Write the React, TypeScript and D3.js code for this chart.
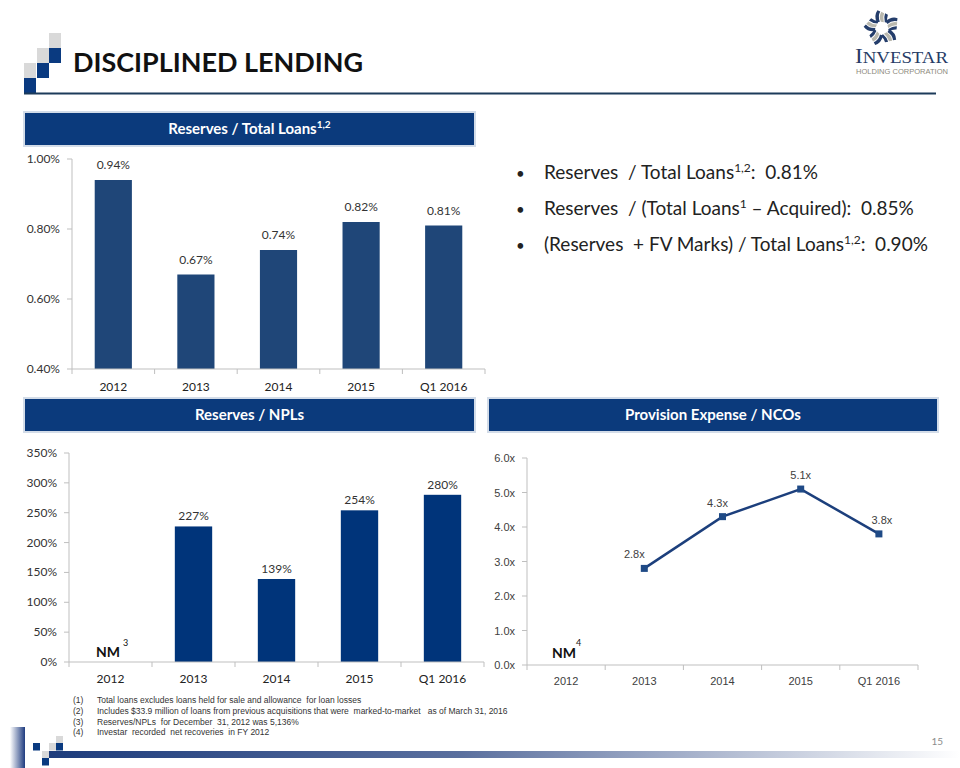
import React from 'react';
import * as d3 from 'd3';

// ---------- DATA ----------
const categories = ['2012', '2013', '2014', '2015', 'Q1 2016'];
const reservesToLoans = [0.94, 0.67, 0.74, 0.82, 0.81];
const reservesToLoansTicks = [0.4, 0.6, 0.8, 1.0];
const reservesToNPLs: (number | null)[] = [null, 227, 139, 254, 280];
const nplTicks = [0, 50, 100, 150, 200, 250, 300, 350];
const provisionToNCOs: (number | null)[] = [null, 2.8, 4.3, 5.1, 3.8];
const ncoTicks = [0, 1, 2, 3, 4, 5, 6];

const bulletLines = [
  [{ t: 'Reserves  / Total Loans' }, { t: '1,2', sup: true }, { t: ':  0.81%' }],
  [{ t: 'Reserves  / (Total Loans' }, { t: '1', sup: true }, { t: ' – Acquired):  0.85%' }],
  [{ t: '(Reserves  + FV Marks) / Total Loans' }, { t: '1,2', sup: true }, { t: ':  0.90%' }],
];

const footnotes = [
  'Total loans excludes loans held for sale and allowance  for loan losses',
  'Includes $33.9 million of loans from previous acquisitions that were  marked-to-market   as of March 31, 2016',
  'Reserves/NPLs  for December  31, 2012 was 5,136%',
  'Investar  recorded  net recoveries  in FY 2012',
];

// ---------- STYLE ----------
const NAVY = '#0b3a7c';
const BAR1 = '#1f4678';
const BAR2 = '#00347a';
const AXIS = '#bfbfbf';
const TXT = '#333333';
const CAL = 'Lato, "Open Sans", sans-serif';
const TAH = '"Liberation Sans", Arial, sans-serif';
const ncoLabelDx = [0, -10, -5, 0, 3];

function HeaderBar({ x, y, w, h, children }: any) {
  return (
    <g>
      <rect x={x - 1} y={y - 1} width={w + 2} height={h + 2} fill="#d3dce8" />
      <rect x={x + 1} y={y + 1} width={w - 2} height={h - 2} fill={NAVY} />
      <text x={x + w / 2} y={y + h / 2 + 5} textAnchor="middle" fill="#fff" fontFamily={CAL} fontWeight={700} fontSize={15}>
        {children}
      </text>
    </g>
  );
}

function CategoryAxis({ x, y, font, size, labelY, color }: any) {
  const [r0, r1] = x.range();
  const step = x.step();
  const ticks = d3.range(categories.length + 1).map((i) => r0 + i * step);
  return (
    <g>
      <line x1={r0} x2={r1} y1={y} y2={y} stroke={AXIS} strokeWidth={1} />
      {ticks.map((t, i) => (
        <line key={i} x1={t} x2={t} y1={y} y2={y + 5} stroke={AXIS} />
      ))}
      {categories.map((c) => (
        <text key={c} x={(x(c) ?? 0) + x.bandwidth() / 2} y={labelY} textAnchor="middle" fontFamily={font} fontSize={size} fill={color}>
          {c}
        </text>
      ))}
    </g>
  );
}

function ValueAxis({ y, x0, ticks, fmt, font, size, color }: any) {
  const [b, t] = y.range();
  return (
    <g>
      <line x1={x0} x2={x0} y1={b} y2={t} stroke={AXIS} />
      {ticks.map((v: number) => (
        <g key={v}>
          <line x1={x0 - 5} x2={x0} y1={y(v)} y2={y(v)} stroke={AXIS} />
          <text x={x0 - 12} y={y(v) + 4} textAnchor="end" fontFamily={font} fontSize={size} fill={color}>
            {fmt(v)}
          </text>
        </g>
      ))}
    </g>
  );
}

function Logo() {
  const cx = 882, cy = 28;
  const arms = d3.range(5);
  return (
    <g>
      {arms.map((i) => (
        <g key={i} transform={`translate(${cx},${cy}) rotate(${i * 72 - 10})`}>
          <path d="M5,-6 Q11,-10 17,-7 L16,-4 Q11,-6 6,-3 Z" fill="#243d6b" />
          <path d="M6,-2 Q11,-5 16,-3 L15,0 Q11,-1 6,1 Z" fill="#b9b8ae" />
          <path d="M6,2 Q11,0 15,1 L14,4 Q10,3 6,5 Z" fill="#243d6b" />
        </g>
      ))}
      <text x={855} y={63} fontFamily='"Liberation Serif", "DejaVu Serif", serif' fill="#263b66" fontSize={21} textLength={93} lengthAdjust="spacingAndGlyphs">
        I<tspan fontSize={17}>NVESTAR</tspan>
      </text>
      <text x={856} y={74} fontFamily={TAH} fill="#8d8a7c" fontSize={6.5} textLength={92} lengthAdjust="spacingAndGlyphs">
        HOLDING CORPORATION
      </text>
    </g>
  );
}

export default function App() {
  // Chart 1
  const x1 = d3.scaleBand<string>().domain(categories).range([72, 485]).paddingInner(0.55).paddingOuter(0.275);
  const y1 = d3.scaleLinear().domain([0.4, 1.0]).range([369, 159]);
  const x1Axis = d3.scaleBand<string>().domain(categories).range([72, 485]);

  // Chart 2
  const x2 = d3.scaleBand<string>().domain(categories).range([69, 484]).paddingInner(0.55).paddingOuter(0.275);
  const x2Axis = d3.scaleBand<string>().domain(categories).range([69, 484]);
  const y2 = d3.scaleLinear().domain([0, 350]).range([662, 453]);

  // Chart 3
  const x3 = d3.scaleBand<string>().domain(categories).range([527, 918]);
  const y3 = d3.scaleLinear().domain([0, 6]).range([665, 458]);
  const ncoPts = categories
    .map((c, i) => ({ c, v: provisionToNCOs[i], i }))
    .filter((d) => d.v != null) as { c: string; v: number; i: number }[];
  const line = d3
    .line<{ c: string; v: number }>()
    .x((d) => (x3(d.c) ?? 0) + x3.bandwidth() / 2)
    .y((d) => y3(d.v));

  const squares = [
    { x: 49, y: 33, f: '#d9d9d9' },
    { x: 49, y: 48, f: '#0a3a80' },
    { x: 37, y: 48, f: '#d9d9d9' },
    { x: 37, y: 63, f: '#0a3a80' },
    { x: 24, y: 63, f: '#d9d9d9' },
    { x: 24, y: 78, f: '#0a3a80' },
  ];
  const bottomSquares = [
    { x: 56, y: 736, f: '#d9d9d9' },
    { x: 33, y: 743, f: '#0a3a80' },
    { x: 49, y: 743, f: '#d9d9d9' },
    { x: 56, y: 743, f: '#0a3a80' },
    { x: 42, y: 751, f: '#d9d9d9' },
    { x: 42, y: 758, f: '#0a3a80' },
  ];

  return (
    <svg width={960} height={768} style={{ position: 'absolute', left: 0, top: 0, background: '#fff' }} xmlSpace="preserve">
      <defs>
        <linearGradient id="gBar" x1="0" x2="1" y1="0" y2="0">
          <stop offset="0" stopColor="#1d3c7c" />
          <stop offset="0.45" stopColor="#5a6f9e" />
          <stop offset="1" stopColor="#ffffff" />
        </linearGradient>
        <linearGradient id="gV" x1="0" x2="1" y1="0" y2="0">
          <stop offset="0" stopColor="#ffffff" />
          <stop offset="1" stopColor="#1f3c80" />
        </linearGradient>
      </defs>
      <rect width={960} height={768} fill="#fff" />

      {/* Header */}
      {squares.map((s, i) => (
        <rect key={i} x={s.x} y={s.y} width={12} height={15} fill={s.f} />
      ))}
      <text x={73} y={72} fontFamily={CAL} fontWeight={700} fontSize={26} fill="#111" textLength={290} lengthAdjust="spacingAndGlyphs">
        DISCIPLINED LENDING
      </text>
      <line x1={24} x2={936} y1={93.5} y2={93.5} stroke="#1c3b5a" strokeWidth={2} />
      <Logo />

      {/* Chart 1 */}
      <HeaderBar x={24} y={112} w={451} h={34}>
        Reserves / Total Loans<tspan dy={-6} fontSize={10}>1,2</tspan>
      </HeaderBar>
      <ValueAxis y={y1} x0={72} ticks={reservesToLoansTicks} fmt={(v: number) => d3.format('.2f')(v) + '%'} font={CAL} size={12} color={TXT} />
      {categories.map((c, i) => (
        <g key={c}>
          <rect x={x1(c)} y={y1(reservesToLoans[i])} width={x1.bandwidth()} height={y1(0.4) - y1(reservesToLoans[i])} fill={BAR1} />
          <text x={(x1(c) ?? 0) + x1.bandwidth() / 2} y={y1(reservesToLoans[i]) - 11} textAnchor="middle" fontFamily={CAL} fontSize={12} fill={TXT}>
            {d3.format('.2f')(reservesToLoans[i])}%
          </text>
        </g>
      ))}
      <CategoryAxis x={x1Axis} y={369} font={CAL} size={12} labelY={391} color="#222" />

      {/* Bullets */}
      {bulletLines.map((segs, i) => (
        <g key={i}>
          <text x={516} y={179 + i * 36} fontFamily={CAL} fontSize={15} fill="#222">•</text>
          <text x={544} y={179 + i * 36} fontFamily={CAL} fontSize={19} fill="#222" style={{ whiteSpace: 'pre' }}>
            {segs.map((s: any, j: number) =>
              s.sup ? (
                <tspan key={j} dy={-7} fontSize={12}>{s.t}</tspan>
              ) : (
                <tspan key={j} dy={j > 0 ? 7 : 0}>{s.t}</tspan>
              )
            )}
          </text>
        </g>
      ))}

      {/* Chart 2 */}
      <HeaderBar x={24} y={398} w={451} h={34}>Reserves / NPLs</HeaderBar>
      <ValueAxis y={y2} x0={69} ticks={nplTicks} fmt={(v: number) => v + '%'} font={CAL} size={12} color={TXT} />
      {categories.map((c, i) => {
        const v = reservesToNPLs[i];
        if (v == null) return null;
        return (
          <g key={c}>
            <rect x={x2(c)} y={y2(v)} width={x2.bandwidth()} height={y2(0) - y2(v)} fill={BAR2} />
            <text x={(x2(c) ?? 0) + x2.bandwidth() / 2} y={y2(v) - 6} textAnchor="middle" fontFamily={CAL} fontSize={12} fill={TXT}>
              {v}%
            </text>
          </g>
        );
      })}
      <CategoryAxis x={x2Axis} y={662} font={CAL} size={12} labelY={683} color="#222" />
      <text x={96} y={657} fontFamily={CAL} fontWeight={700} fontSize={14} fill="#111">NM</text>
      <text x={123} y={646} fontFamily={CAL} fontSize={9} fill="#111">3</text>

      {/* Chart 3 */}
      <HeaderBar x={488} y={398} w={450} h={34}>Provision Expense / NCOs</HeaderBar>
      <ValueAxis y={y3} x0={527} ticks={ncoTicks} fmt={(v: number) => d3.format('.1f')(v) + 'x'} font={TAH} size={11} color="#404040" />
      <CategoryAxis x={x3} y={665} font={TAH} size={11} labelY={685} color="#404040" />
      <path d={line(ncoPts) ?? ''} fill="none" stroke="#1c3f7c" strokeWidth={2.5} />
      {ncoPts.map((d) => {
        const cx = (x3(d.c) ?? 0) + x3.bandwidth() / 2;
        const cy = y3(d.v);
        return (
          <g key={d.c}>
            <rect x={cx - 3.5} y={cy - 3.5} width={7} height={7} fill="#1f4a86" />
            <text x={cx + ncoLabelDx[d.i]} y={cy - 10} textAnchor="middle" fontFamily={TAH} fontSize={11} fill="#404040">
              {d3.format('.1f')(d.v)}x
            </text>
          </g>
        );
      })}
      <text x={552} y={658} fontFamily={CAL} fontWeight={700} fontSize={14} fill="#111">NM</text>
      <text x={576} y={646} fontFamily={CAL} fontSize={9} fill="#111">4</text>

      {/* Footnotes */}
      {footnotes.map((f, i) => (
        <g key={i}>
          <text x={73} y={703 + i * 10.8} fontFamily={TAH} fontSize={8.5} fill={TXT}>({i + 1})</text>
          <text x={97} y={703 + i * 10.8} fontFamily={TAH} fontSize={8.5} fill={TXT} style={{ whiteSpace: 'pre' }}>{f}</text>
        </g>
      ))}

      {/* Bottom decoration */}
      <rect x={10} y={727} width={15} height={41} fill="url(#gV)" />
      <rect x={49} y={751} width={911} height={7} fill="url(#gBar)" />
      {bottomSquares.map((s, i) => (
        <rect key={i} x={s.x} y={s.y} width={7} height={7.5} fill={s.f} />
      ))}
      <text x={943} y={745} textAnchor="end" fontFamily={CAL} fontSize={10} fill="#8c8c8c">15</text>
    </svg>
  );
}
